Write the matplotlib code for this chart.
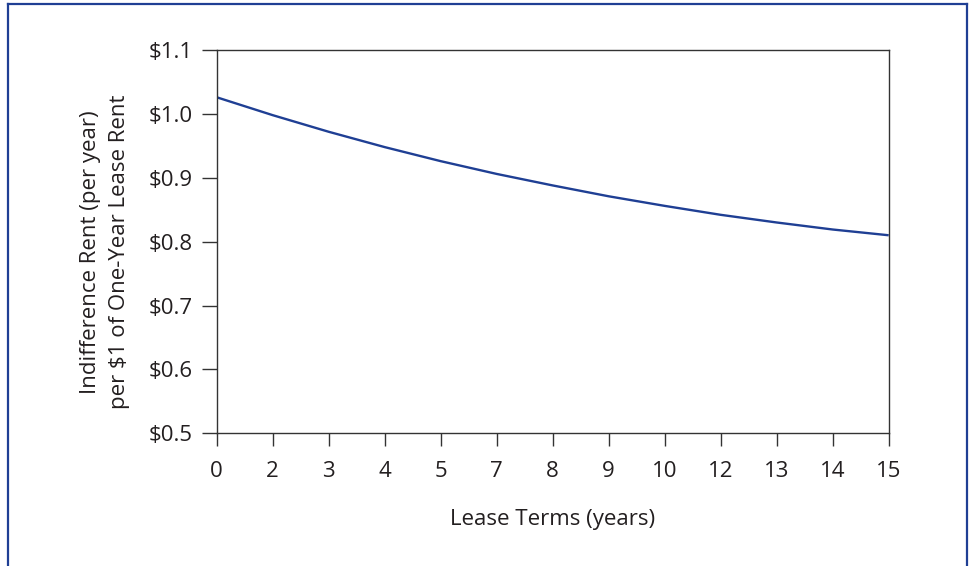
import matplotlib
matplotlib.use('Agg')
import matplotlib.pyplot as plt

# Lease terms shown on the axis (evenly spaced categories)
lease_terms = ['0', '2', '3', '4', '5', '7', '8', '9', '10', '12', '13', '14', '15']
# Indifference rent per $1 of one-year lease rent
indiff_rent = [1.026, 0.998, 0.972, 0.948, 0.926, 0.906, 0.888,
               0.871, 0.856, 0.842, 0.830, 0.819, 0.810]
y_ticks = [0.5, 0.6, 0.7, 0.8, 0.9, 1.0, 1.1]

plt.rcParams['font.family'] = ['Open Sans', 'DejaVu Sans']

W, H = 972, 566
fig = plt.figure(figsize=(W / 100, H / 100), dpi=100, facecolor='white')
ax = fig.add_axes([216.7 / W, 1 - 433.3 / H, 672 / W, 383.3 / H])

blue = '#1f3f94'
axis_col = '#333333'
text_col = '#231f20'
fs = 16

x = list(range(len(lease_terms)))
ax.plot(x, indiff_rent, color=blue, linewidth=1.7, solid_capstyle='butt')

ax.set_xlim(0, len(lease_terms) - 1)
ax.set_ylim(0.5, 1.1)
ax.set_xticks(x)
ax.set_xticklabels(lease_terms)
ax.set_yticks(y_ticks)
ax.set_yticklabels([f'${v:.1f}' for v in y_ticks])

for spine in ax.spines.values():
    spine.set_color(axis_col)
    spine.set_linewidth(1.0)

ax.tick_params(axis='x', direction='out', length=9.5, width=1.0, color=axis_col,
               labelsize=fs, labelcolor=text_col, pad=10.5)
ax.tick_params(axis='y', direction='out', length=11, width=1.0, color=axis_col,
               labelsize=fs, labelcolor=text_col, pad=6)

fig.text(105 / W, 1 - 252 / H,
         'Indifference Rent (per year)\nper $1 of One-Year Lease Rent',
         rotation=90, ha='center', va='center', multialignment='center',
         fontsize=fs, color=text_col, linespacing=1.5)
fig.text(553 / W, 1 - 524.5 / H, 'Lease Terms (years)', ha='center', va='baseline',
         fontsize=fs, color=text_col)

# blue frame around the figure (open at the bottom)
frame = dict(transform=fig.transFigure, color=blue, linewidth=1.6)
fig.add_artist(plt.Line2D([8 / W, 8 / W], [0, 1 - 4 / H], **frame))
fig.add_artist(plt.Line2D([967 / W, 967 / W], [0, 1 - 4 / H], **frame))
fig.add_artist(plt.Line2D([8 / W, 967 / W], [1 - 4 / H, 1 - 4 / H], **frame))

fig.savefig('out.png', dpi=100)
